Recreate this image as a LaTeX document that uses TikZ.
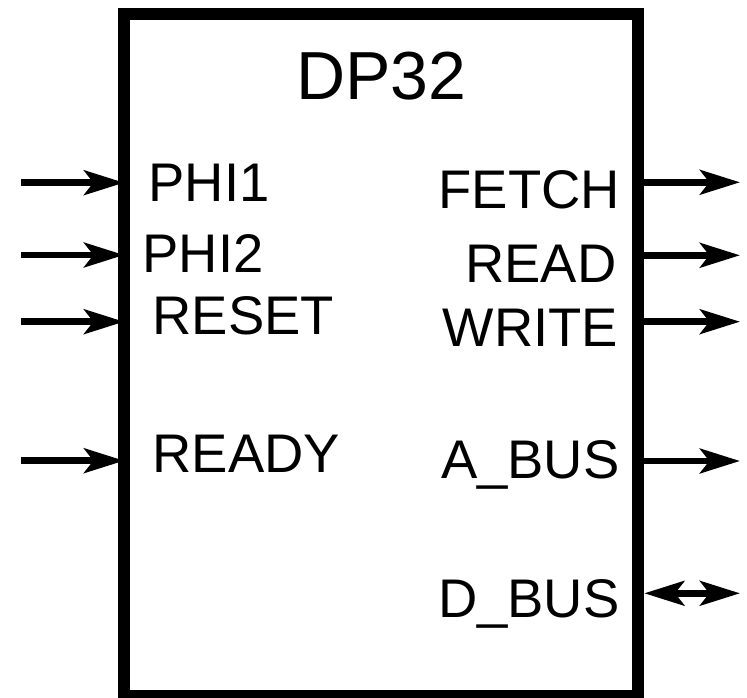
\documentclass[tikz,border=0pt]{standalone}
\usepackage{fontspec}
\setmainfont{Liberation Sans}
\usetikzlibrary{arrows.meta}
\begin{document}
\begin{tikzpicture}[x=0.75pt,y=-0.75pt,
  chipbox/.style={draw, line width=9pt, rectangle, inner sep=0pt, outer sep=0pt,
    minimum width=385.7pt, minimum height=511.5pt},
  sig/.style={line width=4.9pt, -{Stealth[length=30pt, width=18.5pt, inset=7pt]}},
  bisig/.style={line width=4.9pt, {Stealth[length=30pt, width=18.5pt, inset=7pt]}-{Stealth[length=30pt, width=18.5pt, inset=7pt]}},
  pinl/.style={anchor=base west, inner sep=0pt, outer sep=0pt, font=\fontsize{40.8}{40.8}\selectfont},
  pinr/.style={anchor=base east, inner sep=0pt, outer sep=0pt, font=\fontsize{40.8}{40.8}\selectfont},
  title/.style={anchor=base, inner sep=0pt, outer sep=0pt, font=\fontsize{51}{51}\selectfont}]
\useasboundingbox (0,0) rectangle (747,698);
\begin{scope}
\clip (0,0) rectangle (747,698);
\node[chipbox] (chip) at (381.2,355) {};
\end{scope}
\node[title] (name) at (381.5,100) {DP32};
% left labels
\node[pinl] (lphi1) at (148.7,201.7) {PHI1};
\node[pinl] (lphi2) at (142.7,273) {PHI2};
\node[pinl] (lreset) at (152.5,335) {RESET};
\node[pinl] (lready) at (152.5,473) {READY};
% right labels
\node[pinr] (lfetch) at (620,208.3) {FETCH};
\node[pinr] (lread) at (616.4,283) {READ};
\node[pinr] (lwrite) at (618,346.7) {WRITE};
\node[pinr] (labus) at (619.5,479) {A\_BUS};
\node[pinr] (ldbus) at (619.5,618) {D\_BUS};
% free ends
\coordinate (phi1) at (21,182.7);
\coordinate (phi2) at (21,255);
\coordinate (reset) at (21,321.7);
\coordinate (ready) at (21,460.7);
\coordinate (fetch) at (740,182.3);
\coordinate (read) at (740,255.3);
\coordinate (write) at (740,321.7);
\coordinate (abus) at (740,461);
\coordinate (dbus) at (740,593.3);
% connectors
\draw[sig] (phi1) -- (phi1 -| chip.west);
\draw[sig] (phi2) -- (phi2 -| chip.west);
\draw[sig] (reset) -- (reset -| chip.west);
\draw[sig] (ready) -- (ready -| chip.west);
\draw[sig] (fetch -| chip.east) -- (fetch);
\draw[sig] (read -| chip.east) -- (read);
\draw[sig] (write -| chip.east) -- (write);
\draw[sig] (abus -| chip.east) -- (abus);
\draw[bisig] ([xshift=4.5pt]dbus -| chip.east) -- (dbus);
\end{tikzpicture}
\end{document}
